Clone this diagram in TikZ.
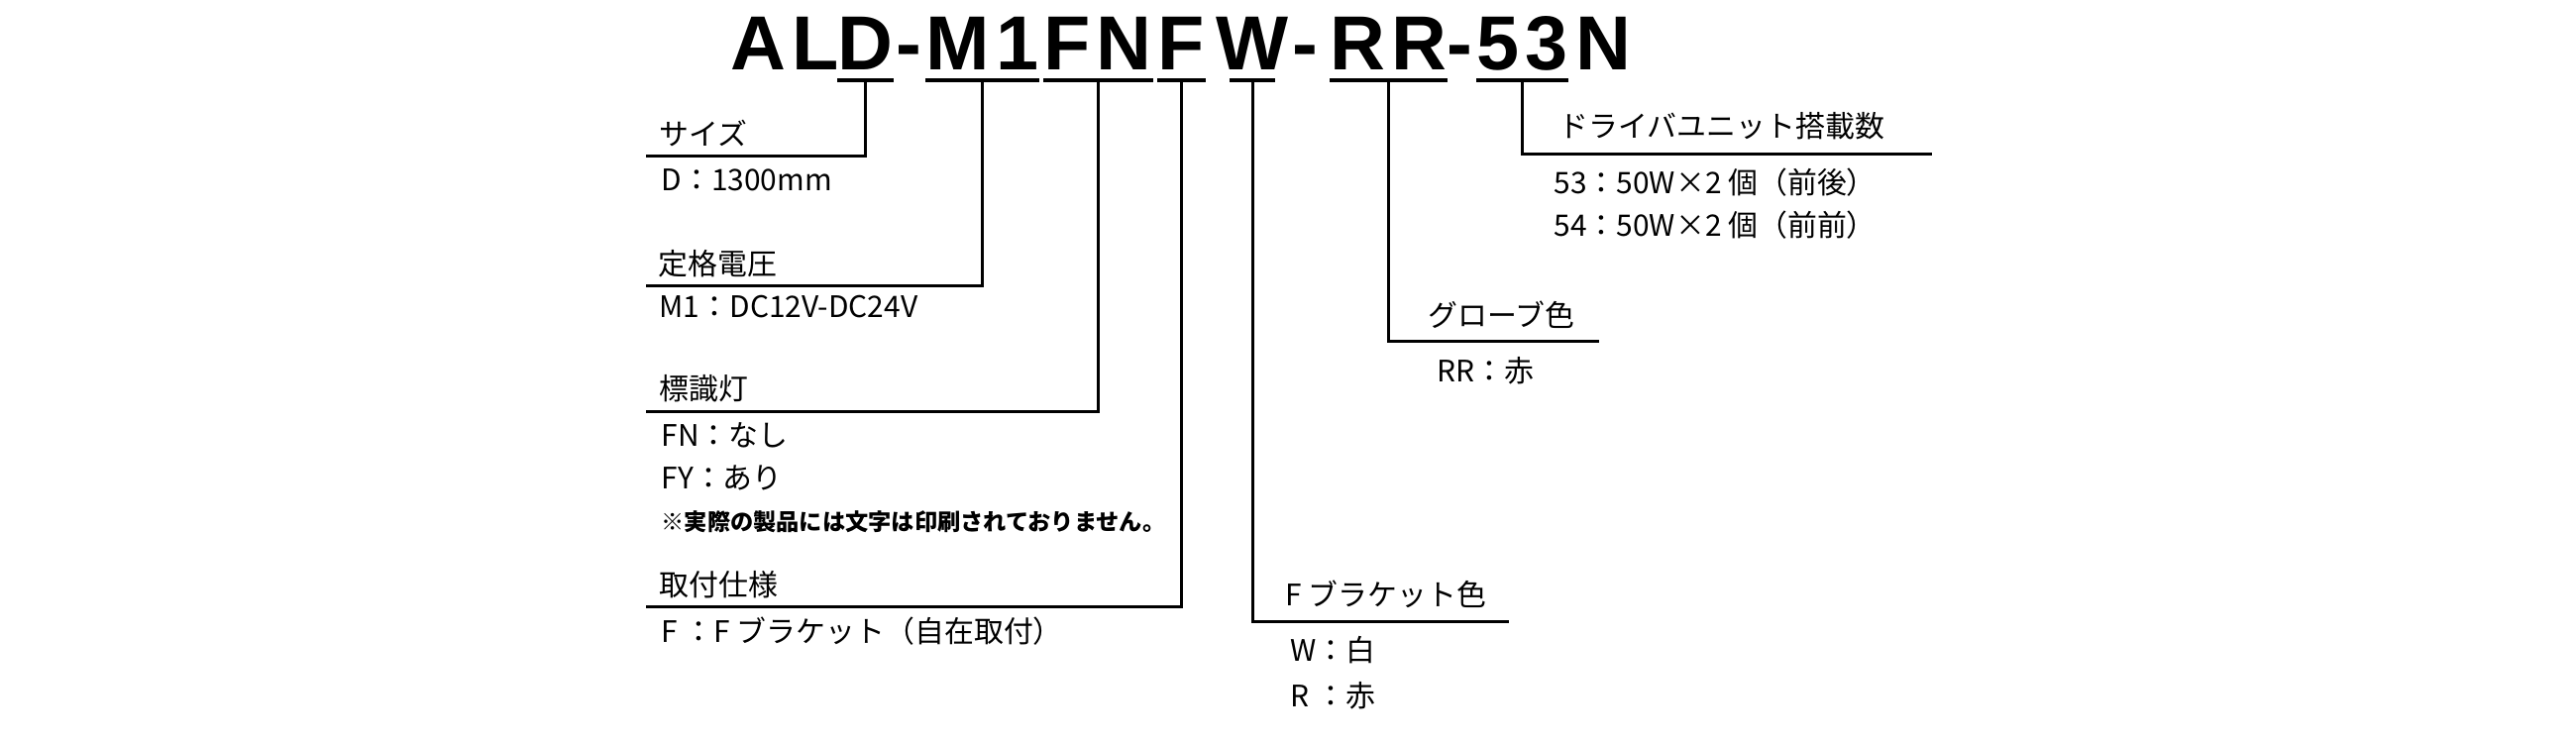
\documentclass[tikz,border=0pt]{standalone}
\usepackage{fontspec}
\usepackage{tikz}
\usetikzlibrary{positioning,calc}
\newfontfamily\jpfont{Noto Sans CJK JP}
\newfontfamily\titlefont{Liberation Sans}
\newcommand{\tsp}{\kern1.7pt}

\begin{document}
\begin{tikzpicture}[x=0.01cm, y=-0.01cm,
  ttl/.style={inner sep=0, anchor=base west, font=\titlefont\bfseries\fontsize{22}{22}\selectfont},
  lbl/.style={inner sep=0, anchor=base west, font=\jpfont\fontsize{8.5}{10}\selectfont},
  note/.style={inner sep=0, anchor=base west, font=\jpfont\bfseries\fontsize{6.6}{8}\selectfont},
  bar/.style={line width=1.4pt},
  lead/.style={line width=0.85pt}]
\useasboundingbox (0,0) rectangle (2600,750);
\node[ttl] (tAL) at (737,70) {A\tsp L};
\node[ttl] (tD) at (845,70) {D};
\node[ttl] (h1) at (904,70) {-};
\node[ttl] (tM) at (934,70) {M\tsp 1};
\node[ttl] (tFN) at (1053,70) {F\tsp N};
\node[ttl] (tF) at (1168,70) {F};
\node[ttl] (tW) at (1227,70) {W};
\node[ttl] (h2) at (1304,70) {-};
\node[ttl] (tRR) at (1342,70) {R\tsp R};
\node[ttl] (h3) at (1460,70) {-};
\node[ttl] (t53) at (1490,70) {5\tsp 3};
\node[ttl] (tN) at (1590,70) {N};
\coordinate (rSize) at (652,157);
\coordinate (rVolt) at (652,288);
\coordinate (rLamp) at (652,415);
\coordinate (rMount) at (652,612);
\coordinate (rBrk) at (1523,627);
\coordinate (rGlb) at (1614,344);
\coordinate (rDrv) at (1950,155);
\node[lbl] (size) at (665,146) {サイズ};
\node[lbl] (sizeD) at (667,192) {D：1300mm};
\node[lbl] (volt) at (664,277) {定格電圧};
\node[lbl] (voltM) at (665,320) {M1：DC12V-DC24V};
\node[lbl] (lamp) at (665,403) {標識灯};
\node[lbl] (lampFN) at (667,450) {FN：なし};
\node[lbl] (lampFY) at (667,493) {FY：あり};
\node[note] (lampNote) at (667,535) {※実際の製品には文字は印刷されておりません。};
\node[lbl] (mount) at (665,601) {取付仕様};
\node[lbl] (mountF) at (667,648) {F ：F ブラケット（自在取付）};
\node[lbl] (brk) at (1297,611) {F ブラケット色};
\node[lbl] (brkW) at (1302,667) {W：白};
\node[lbl] (brkR) at (1302,713) {R ：赤};
\node[lbl] (glb) at (1441,329) {グローブ色};
\node[lbl] (glbRR) at (1450,385) {RR：赤};
\node[lbl] (drv) at (1573,138) {ドライバユニット搭載数};
\node[lbl] (drv53) at (1568,195) {53：50W×2 個（前後）};
\node[lbl] (drv54) at (1568,238) {54：50W×2 個（前前）};
\draw[bar] ([yshift=-.11cm]tD.base west) -- ([yshift=-.11cm]tD.base east);
\draw[bar] ([yshift=-.11cm]tM.base west) -- ([yshift=-.11cm]tM.base east);
\draw[bar] ([yshift=-.11cm]tFN.base west) -- ([yshift=-.11cm]tFN.base east);
\draw[bar] ([yshift=-.11cm]tF.base west) -- ([yshift=-.11cm]tF.base east);
\draw[bar, shorten <=4pt, shorten >=4pt] ([yshift=-.11cm]tW.base west) -- ([yshift=-.11cm]tW.base east);
\draw[bar] ([yshift=-.11cm]tRR.base west) -- ([yshift=-.11cm]tRR.base east);
\draw[bar] ([yshift=-.11cm]t53.base west) -- ([yshift=-.11cm]t53.base east);
\draw[lead] ([yshift=-.11cm]tD.base) |- (rSize);
\draw[lead] ([yshift=-.11cm]tM.base) |- (rVolt);
\draw[lead] ([yshift=-.11cm]tFN.base) |- (rLamp);
\draw[lead] ([yshift=-.11cm]tF.base) |- (rMount);
\draw[lead] ([yshift=-.11cm]tW.base) |- (rBrk);
\draw[lead] ([yshift=-.11cm]tRR.base) |- (rGlb);
\draw[lead] ([yshift=-.11cm]t53.base) |- (rDrv);
\end{tikzpicture}
\end{document}
